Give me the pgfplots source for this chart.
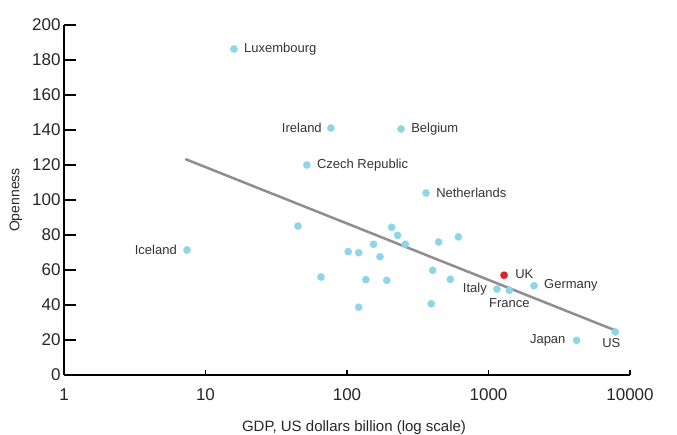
\documentclass[border=0pt]{standalone}
\usepackage{fontspec}
\setmainfont{Liberation Sans}
\usepackage{pgfplots}
\pgfplotsset{compat=1.18}
\definecolor{dotblue}{HTML}{8FD5E8}
\definecolor{ukred}{HTML}{E5202A}
\definecolor{trend}{HTML}{8E8E8E}
\definecolor{txt}{HTML}{333333}
\begin{document}
\begin{tikzpicture}
\useasboundingbox (-64pt,-59pt) rectangle (613pt,375pt);
% x ticks axis
\begin{axis}[
  at={(0pt,0pt)}, anchor=south west,
  scale only axis,
  width=566pt, height=350pt,
  xmode=log, log basis x=10,
  xmin=1, xmax=10000, ymin=0, ymax=200,
  axis x line*=bottom, axis y line*=left,
  axis line style={-, line width=1.3pt, black},
  tick style={black, line width=1.2pt},
  tick align=inside,
  tick label style={font=\fontsize{17}{19}\selectfont, text=black!85},
  clip=false,
  major tick length=5pt,
  xtick={1,10,100,1000,10000},
  xticklabels={1,10,100,1000,10000},
  minor xtick={},
  ytick=\empty,
  xticklabel style={yshift=-10pt},
  xlabel={GDP, US dollars billion (log scale)},
  label style={font=\fontsize{15}{17}\selectfont, text=black!85},
  xlabel style={yshift=-13pt, xshift=7pt},
]
\addplot[draw=none, no marks] coordinates {(10,50) (100,60)};
\end{axis}
\begin{axis}[
  at={(0pt,0pt)}, anchor=south west,
  scale only axis,
  width=566pt, height=350pt,
  xmode=log, log basis x=10,
  xmin=1, xmax=10000, ymin=0, ymax=200,
  axis x line*=bottom, axis y line*=left,
  axis line style={-, line width=1.3pt, black},
  tick style={black, line width=1.2pt},
  tick align=inside,
  tick label style={font=\fontsize{17}{19}\selectfont, text=black!85},
  clip=false,
  major tick length=12pt,
  xtick=\empty,
  ytick={0,20,...,200},
  yticklabel style={xshift=0pt},
  ylabel={Openness},
  label style={font=\fontsize{14}{16}\selectfont, text=black!85},
  ylabel style={yshift=3pt},
  /pgf/number format/assume math mode=true,
]
% trend line
\addplot[trend, line width=2.5pt, no marks] coordinates {(7.2,123.4) (8090,25.1)};
% countries
\addplot[only marks, mark=*, mark size=3.6pt, color=dotblue, mark options={draw=dotblue, fill=dotblue}] coordinates {
(15.9,186.3) (77,141.1) (241,140.6) (52,120) (362,104) (7.4,71.4)
(45,85.1) (65.5,56) (207,84.4) (228,79.8) (258,74.7) (154,74.7)
(102,70.5) (121,69.9) (171,67.6) (444,76) (612,78.9) (403,59.8)
(136,54.5) (191,54.1) (537,54.7) (121,38.7) (394,40.7)
(1148,49.1) (1403,48.4) (2098,51) (4198,19.8) (7875,24.6)
};
\addplot[only marks, mark=*, mark size=3.6pt, color=ukred, mark options={draw=ukred, fill=ukred}] coordinates {(1288,57)};
% labels
\begin{scope}[every node/.style={font=\fontsize{13}{15}\selectfont, text=txt, inner sep=0pt}]
\node[anchor=west] at (axis cs:15.9,186.3) [xshift=10pt] {Luxembourg};
\node[anchor=east] at (axis cs:77,141.1) [xshift=-9pt] {Ireland};
\node[anchor=west] at (axis cs:241,140.6) [xshift=10pt] {Belgium};
\node[anchor=west] at (axis cs:52,120) [xshift=10pt] {Czech Republic};
\node[anchor=west] at (axis cs:362,104) [xshift=10pt] {Netherlands};
\node[anchor=east] at (axis cs:7.4,71.4) [xshift=-10pt] {Iceland};
\node[anchor=west] at (axis cs:1288,57) [xshift=11pt, yshift=1pt] {UK};
\node[anchor=east] at (axis cs:1148,49.1) [xshift=-10pt] {Italy};
\node[anchor=north] at (axis cs:1403,48.4) [yshift=-8pt] {France};
\node[anchor=west] at (axis cs:2098,51) [xshift=10pt] {Germany};
\node[anchor=east] at (axis cs:4198,19.8) [xshift=-11pt] {Japan};
\node[anchor=north] at (axis cs:7875,24.6) [xshift=-4pt, yshift=-6pt] {US};
\end{scope}
\end{axis}
\end{tikzpicture}
\end{document}
